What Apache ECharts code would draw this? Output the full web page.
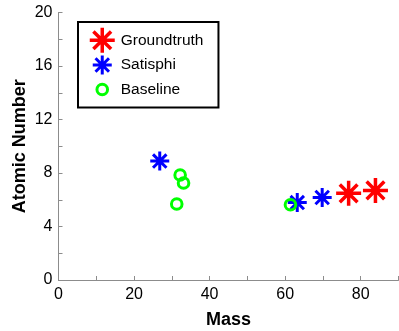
<!DOCTYPE html>
<html>
<head>
<meta charset="utf-8">
<script src="https://cdn.jsdelivr.net/npm/echarts@6/dist/echarts.min.js"></script>
<style>
html,body{margin:0;padding:0;background:#fff;}
#chart{width:399px;height:331px;}
</style>
</head>
<body>
<div id="chart"></div>
<script>
// ---- data ----
var seriesNames = ['Groundtruth', 'Satisphi', 'Baseline'];
var groundtruth = [[76.8, 6.48], [83.9, 6.70]];
var satisphi = [[26.8, 8.89], [63.2, 5.79], [69.8, 6.17]];
var baseline = [[32.2, 7.85], [33.1, 7.25], [31.3, 5.68], [61.4, 5.63]];
var xTicks = [0, 20, 40, 60, 80];
var yTicks = [0, 4, 8, 12, 16, 20];
var xName = 'Mass';
var yName = 'Atomic Number';

// ---- symbols ----
var asterisk = 'path://M0 -1L0 1M-1 0L1 0M-0.7071 -0.7071L0.7071 0.7071M-0.7071 0.7071L0.7071 -0.7071';
var ring = 'path://M1 0A1 1 0 1 1 -1 0A1 1 0 1 1 1 0Z';
function legendAsterisk(r) {
  var c = 12.5, d = r * 0.7071;
  return 'path://M0 0M26 25' +
    'M' + c + ' ' + (c - r) + 'L' + c + ' ' + (c + r) +
    'M' + (c - r) + ' ' + c + 'L' + (c + r) + ' ' + c +
    'M' + (c - d) + ' ' + (c - d) + 'L' + (c + d) + ' ' + (c + d) +
    'M' + (c - d) + ' ' + (c + d) + 'L' + (c + d) + ' ' + (c - d);
}
function legendRing(r) {
  var c = 12.5;
  return 'path://M0 0M26 25M' + (c + r) + ' ' + c +
    'A' + r + ' ' + r + ' 0 1 1 ' + (c - r) + ' ' + c +
    'A' + r + ' ' + r + ' 0 1 1 ' + (c + r) + ' ' + c + 'Z';
}

var FONT = '"Liberation Sans", Arial, sans-serif';
var axisGray = '#8c8c8c';

var chart = echarts.init(document.getElementById('chart'), null, {renderer: 'canvas'});
chart.setOption({
  animation: false,
  backgroundColor: '#fff',
  grid: {left: 58.5, right: 0.5, top: 12.5, bottom: 51, containLabel: false, outerBoundsMode: 'none'},
  legend: {
    orient: 'vertical',
    left: 78, top: 22,
    padding: [4, 15, 4, 10],
    itemGap: -3.5,
    itemWidth: 26, itemHeight: 25,
    borderColor: '#000', borderWidth: 2,
    backgroundColor: '#fff',
    textStyle: {fontFamily: FONT, fontSize: 15.5, color: '#000'},
    data: [
      {name: seriesNames[0], icon: legendAsterisk(12.5), itemStyle: {color: '#ff0000', borderColor: '#ff0000', borderWidth: 3.5}},
      {name: seriesNames[1], icon: legendAsterisk(9.5), itemStyle: {color: '#0000ff', borderColor: '#0000ff', borderWidth: 3}},
      {name: seriesNames[2], icon: legendRing(5.3), itemStyle: {color: 'rgba(0,0,0,0)', borderColor: '#00ff00', borderWidth: 3}}
    ]
  },
  xAxis: {
    type: 'value', min: 0, max: 90, interval: 10,
    name: xName, nameLocation: 'middle', nameGap: 31, nameMoveOverlap: false,
    nameTextStyle: {fontFamily: FONT, fontSize: 18, fontWeight: 'bold', color: '#000'},
    axisLine: {show: true, lineStyle: {color: axisGray, width: 1}},
    axisTick: {show: true, inside: true, length: 4, lineStyle: {color: axisGray}},
    axisLabel: {
      margin: 7, fontFamily: FONT, fontSize: 16, color: '#000',
      formatter: function (v) { return xTicks.indexOf(v) >= 0 ? String(v) : ''; }
    },
    splitLine: {show: false}
  },
  yAxis: {
    type: 'value', min: 0, max: 20, interval: 2,
    name: yName, nameLocation: 'middle', nameGap: 29, nameRotate: 90, nameMoveOverlap: false,
    nameTextStyle: {fontFamily: FONT, fontSize: 18, fontWeight: 'bold', color: '#000'},
    axisLine: {show: true, lineStyle: {color: axisGray, width: 1}},
    axisTick: {show: true, inside: true, length: 4, lineStyle: {color: axisGray}},
    axisLabel: {
      margin: 6, fontFamily: FONT, fontSize: 16, color: '#000',
      formatter: function (v) { return yTicks.indexOf(v) >= 0 ? String(v) : ''; }
    },
    splitLine: {show: false}
  },
  series: [
    {
      name: seriesNames[0], type: 'scatter', data: groundtruth,
      symbol: asterisk, symbolSize: 25,
      itemStyle: {color: '#ff0000', borderColor: '#ff0000', borderWidth: 3.5, opacity: 1}
    },
    {
      name: seriesNames[1], type: 'scatter', data: satisphi,
      symbol: asterisk, symbolSize: 19,
      itemStyle: {color: '#0000ff', borderColor: '#0000ff', borderWidth: 3, opacity: 1}
    },
    {
      name: seriesNames[2], type: 'scatter', data: baseline,
      symbol: ring, symbolSize: 10.6,
      itemStyle: {color: 'rgba(0,0,0,0)', borderColor: '#00ff00', borderWidth: 3, opacity: 1}
    }
  ]
});
</script>
</body>
</html>
